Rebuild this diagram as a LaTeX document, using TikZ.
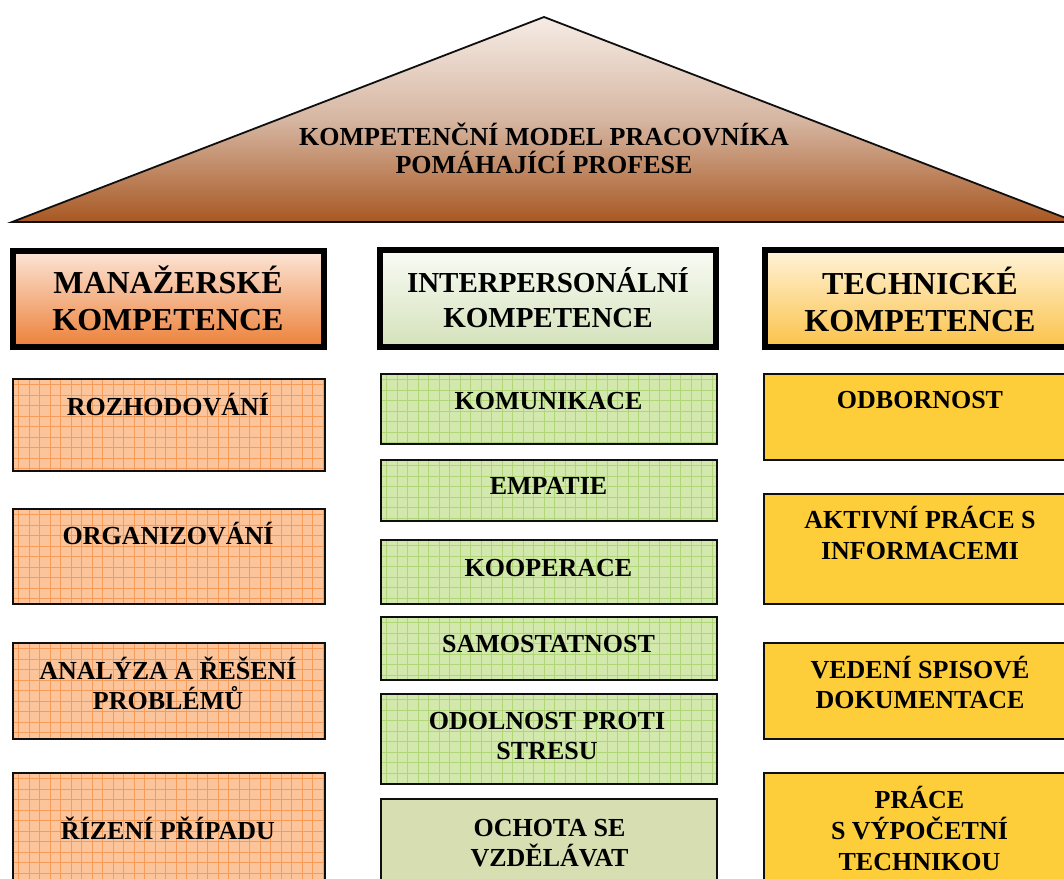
\documentclass[tikz,border=0pt]{standalone}
\usepackage{fontspec}
\setmainfont{Liberation Serif}
\newcommand\cs{\rule[-0.338em]{0pt}{1.338em}}
\newcommand\tightlines{\lineskiplimit=-100pt\lineskip=0pt}
\definecolor{rooftop}{RGB}{246,236,229}
\definecolor{roofmid}{RGB}{214,182,162}
\definecolor{roofbot}{RGB}{168,88,35}
\definecolor{hltop}{RGB}{252,229,215}
\definecolor{hlbot}{RGB}{236,128,56}
\definecolor{hmtop}{RGB}{249,251,245}
\definecolor{hmbot}{RGB}{212,226,186}
\definecolor{hrtop}{RGB}{255,243,216}
\definecolor{hrbot}{RGB}{251,194,74}
\definecolor{ofill}{RGB}{252,196,154}
\definecolor{oline}{RGB}{247,156,88}
\definecolor{gfill}{RGB}{210,232,172}
\definecolor{gline}{RGB}{176,214,120}
\definecolor{olive}{RGB}{215,223,178}
\definecolor{yfill}{RGB}{254,206,58}
\definecolor{edge}{RGB}{15,15,15}
\tikzset{
  gridfill/.style 2 args={fill=#1, path picture={
    \foreach \k in {0,...,33} {\draw[#2, line width=0.9pt] ([xshift=\k*10.5pt+6pt]path picture bounding box.north west) -- ([xshift=\k*10.5pt+6pt]path picture bounding box.south west);}
    \foreach \k in {0,...,14} {\draw[#2, line width=0.9pt] ([yshift=-\k*10.5pt-6pt]path picture bounding box.north west) -- ([yshift=-\k*10.5pt-6pt]path picture bounding box.north east);}
  }},
  cell/.style={draw=edge, line width=2pt, inner sep=0pt, rectangle},
  obox/.style={cell, gridfill={ofill}{oline}},
  gbox/.style={cell, gridfill={gfill}{gline}},
  pbox/.style={cell, fill=olive},
  ybox/.style={cell, fill=yfill},
  hdr/.style={draw=black, line width=6pt, inner sep=0pt, rectangle},
  txt/.style={inner sep=0pt, align=center, text=black, font={\bfseries\fontsize{26}{30}\selectfont\tightlines}},
  bigtxt/.style={inner sep=0pt, align=center, text=black, font={\bfseries\fontsize{32}{37}\selectfont\tightlines}},
  midtxt/.style={inner sep=0pt, align=center, text=black, font={\bfseries\fontsize{29}{34.5}\selectfont\tightlines}},
}
\begin{document}
\begin{tikzpicture}[x=1pt,y=-1pt]
\useasboundingbox (0,0) rectangle (1064,878);
\clip (0,0) rectangle (1064,878);
\fill[white] (0,0) rectangle (1064,878);

% roof
\coordinate (rl) at (12,222);
\coordinate (ra) at (544,17);
\coordinate (rr) at (1076,222);
\shade[top color=rooftop, bottom color=roofbot, middle color=roofmid] (rl) -- (ra) -- (rr) -- cycle;
\draw[edge, line width=1.8pt, line join=miter] (rl) -- (ra) -- (rr) -- cycle;
\node[txt, font={\bfseries\fontsize{26}{28}\selectfont\tightlines}] (troof) at (544,151) {\cs KOMPETENČNÍ MODEL PRACOVNÍKA\\\cs POMÁHAJÍCÍ PROFESE};

% headers
\node[hdr, top color=hltop, bottom color=hlbot, minimum width=311pt, minimum height=96pt] (hl) at (168.5,299) {};
\node[bigtxt] (thl) at (168,301) {\cs MANAŽERSKÉ\\\cs KOMPETENCE};
\node[hdr, top color=hmtop, bottom color=hmbot, minimum width=336pt, minimum height=97pt] (hm) at (548,298.5) {};
\node[midtxt] (thm) at (548,300.2) {\cs INTERPERSONÁLNÍ\\\cs KOMPETENCE};
\node[hdr, top color=hrtop, bottom color=hrbot, minimum width=311pt, minimum height=97pt] (hr) at (920.5,298.5) {};
\node[bigtxt] (thr) at (920,302) {\cs TECHNICKÉ\\\cs KOMPETENCE};

% left column
\node[obox, minimum width=312pt, minimum height=92pt] (l1) at (168.5,424.5) {};
\node[txt] (tl1) at (168,407) {\cs ROZHODOVÁNÍ};
\node[obox, minimum width=312pt, minimum height=95pt] (l2) at (168.5,556) {};
\node[txt] (tl2) at (168,535.5) {\cs ORGANIZOVÁNÍ};
\node[obox, minimum width=312pt, minimum height=96pt] (l3) at (168.5,690.5) {};
\node[txt] (tl3) at (168,685.8) {\cs ANALÝZA A ŘEŠENÍ\\\cs PROBLÉMŮ};
\node[obox, minimum width=312pt, minimum height=132pt] (l4) at (168.5,838.5) {};
\node[txt] (tl4) at (168,830.5) {\cs ŘÍZENÍ PŘÍPADU};

% middle column
\node[gbox, minimum width=336pt, minimum height=70pt] (m1) at (548.5,408.5) {};
\node[txt] (tm1) at (548.5,401) {\cs KOMUNIKACE};
\node[gbox, minimum width=336pt, minimum height=61pt] (m2) at (548.5,490) {};
\node[txt] (tm2) at (548.5,486) {\cs EMPATIE};
\node[gbox, minimum width=336pt, minimum height=64pt] (m3) at (548.5,571.5) {};
\node[txt] (tm3) at (548.5,567.5) {\cs KOOPERACE};
\node[gbox, minimum width=336pt, minimum height=63pt] (m4) at (548.5,648) {};
\node[txt] (tm4) at (548.5,643.5) {\cs SAMOSTATNOST};
\node[gbox, minimum width=336pt, minimum height=90pt] (m5) at (548.5,738.5) {};
\node[txt] (tm5) at (547,735.8) {\cs ODOLNOST PROTI\\\cs STRESU};
\node[pbox, minimum width=336pt, minimum height=106pt] (m6) at (548.5,851.5) {};
\node[txt] (tm6) at (549.5,842.5) {\cs OCHOTA SE\\\cs VZDĚLÁVAT};

% right column
\node[ybox, minimum width=311pt, minimum height=86pt] (r1) at (919,416.5) {};
\node[txt] (tr1) at (920,400) {\cs ODBORNOST};
\node[ybox, minimum width=311pt, minimum height=110pt] (r2) at (919,548.5) {};
\node[txt, font={\bfseries\fontsize{26}{31}\selectfont\tightlines}] (tr2) at (920,535.5) {\cs AKTIVNÍ PRÁCE S\\\cs INFORMACEMI};
\node[ybox, minimum width=311pt, minimum height=96pt] (r3) at (919,690.5) {};
\node[txt] (tr3) at (920,685.3) {\cs VEDENÍ SPISOVÉ\\\cs DOKUMENTACE};
\node[ybox, minimum width=311pt, minimum height=132pt] (r4) at (919,838.5) {};
\node[txt, font={\bfseries\fontsize{26}{31}\selectfont\tightlines}] (tr4) at (919.5,831) {\cs PRÁCE\\\cs S VÝPOČETNÍ\\\cs TECHNIKOU};
\end{tikzpicture}
\end{document}
